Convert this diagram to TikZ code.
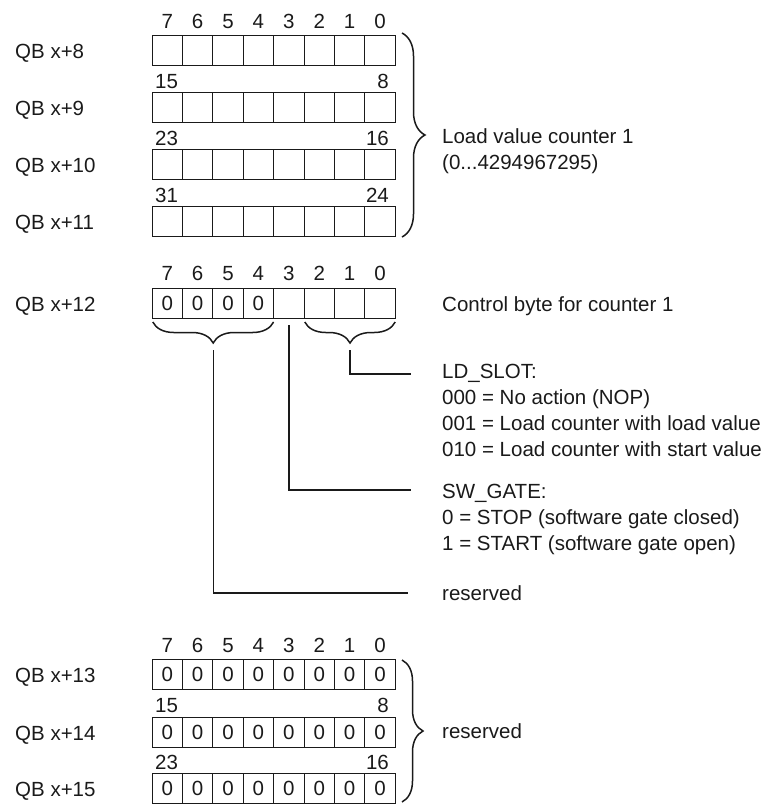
\documentclass[tikz,border=0pt]{standalone}
\usepackage{fontspec}
\setmainfont{Liberation Sans}
\usetikzlibrary{decorations.pathreplacing}
\definecolor{ink}{HTML}{1A1A1A}
\begin{document}
\begin{tikzpicture}[x=1pt,y=-1pt,
  every node/.style={font=\fontsize{20.5}{26}\selectfont, text=ink, inner sep=0pt, text height=14.7pt, text depth=0pt},
  cell/.style={draw=ink, line width=1pt, minimum width=30.4pt, minimum height=30pt},
  lbl/.style={anchor=west},
  bracestyle/.style={draw=ink, line width=1.5pt, decorate, decoration={brace, amplitude=#1}},
  leader/.style={draw=ink, line width=1.4pt}
]
\useasboundingbox (0,0) rectangle (778,804);

% ---------- load value registers ----------
\foreach \r/\y/\lab in {a/50/{QB x+8}, b/107/{QB x+9}, c/164/{QB x+10}, d/221/{QB x+11}} {
  \node[lbl] (lab\r) at (15,\y+1) {\lab};
  \foreach \i in {0,...,7} {
    \pgfmathtruncatemacro\b{7-\i}
    \node[cell] (\r\b) at ({152+30.4*(\i+0.5)},\y) {};
  }
}
\foreach \i in {0,...,7} {
  \pgfmathtruncatemacro\b{7-\i}
  \node (bna\b) at ({152+30.4*(\i+0.5)},21) {\b};
}
\node[anchor=west] (bnb15) at (155,81) {15};
\node[anchor=east] (bnb8) at (389,81) {8};
\node[anchor=west] (bnc23) at (155,138) {23};
\node[anchor=east] (bnc16) at (389,138) {16};
\node[anchor=west] (bnd31) at (155,195) {31};
\node[anchor=east] (bnd24) at (389,195) {24};

\draw[bracestyle=23] (402,33) -- (402,237);
\coordinate (loadtip) at (425,135);
\node[lbl] (load1) at (442,136) {Load value counter 1};
\node[lbl] (load2) at (442,162) {(0...4294967295)};

% ---------- control byte ----------
\node[lbl] (labk) at (15,304) {QB x+12};
\foreach \i in {0,...,7} {
  \pgfmathtruncatemacro\b{7-\i}
  \node (bnk\b) at ({152+30.4*(\i+0.5)},273) {\b};
}
\foreach \i in {0,...,3} {
  \pgfmathtruncatemacro\b{7-\i}
  \node[cell] (k\b) at ({152+30.4*(\i+0.5)},303) {0};
}
\foreach \i in {4,...,7} {
  \pgfmathtruncatemacro\b{7-\i}
  \node[cell] (k\b) at ({152+30.4*(\i+0.5)},303) {};
}
\node[lbl] (ctrl) at (442,304) {Control byte for counter 1};

\draw[bracestyle=21] (273.6,322) -- (152.8,322);
\draw[bracestyle=21] (395.2,322) -- (304.8,322);
\coordinate (restip) at (213.2,350);
\coordinate (slottip) at (350,350);
\coordinate (gatetop) at (288.8,325);

\node[lbl] (ldslot) at (442,371) {LD\_SLOT:};
\node[lbl] (ld0) at (442,397) {000 = No action (NOP)};
\node[lbl] (ld1) at (442,423) {001 = Load counter with load value};
\node[lbl] (ld2) at (442,449) {010 = Load counter with start value};

\node[lbl] (swgate) at (442,491) {SW\_GATE:};
\node[lbl] (sw0) at (442,517) {0 = STOP (software gate closed)};
\node[lbl] (sw1) at (442,543) {1 = START (software gate open)};

\node[lbl] (res1) at (442,593) {reserved};

\coordinate (ldend) at (411,374);
\coordinate (swend) at (411,490);
\coordinate (resend) at (408,593);
\draw[leader] (slottip) |- (ldend);
\draw[leader] (gatetop) |- (swend);
\draw[leader] (restip) |- (resend);

% ---------- reserved registers ----------
\foreach \r/\y/\lab in {e/674/{QB x+13}, f/732/{QB x+14}, g/788/{QB x+15}} {
  \node[lbl] (lab\r) at (15,\y+1) {\lab};
  \foreach \i in {0,...,7} {
    \pgfmathtruncatemacro\b{7-\i}
    \node[cell] (\r\b) at ({152+30.4*(\i+0.5)},\y) {0};
  }
}
\foreach \i in {0,...,7} {
  \pgfmathtruncatemacro\b{7-\i}
  \node (bne\b) at ({152+30.4*(\i+0.5)},645) {\b};
}
\node[anchor=west] (bnf15) at (155,705) {15};
\node[anchor=east] (bnf8) at (389,705) {8};
\node[anchor=west] (bng23) at (155,762) {23};
\node[anchor=east] (bng16) at (389,762) {16};

\draw[bracestyle=21] (402,660) -- (402,802);
\node[lbl] (res2) at (442,731) {reserved};
\end{tikzpicture}
\end{document}
